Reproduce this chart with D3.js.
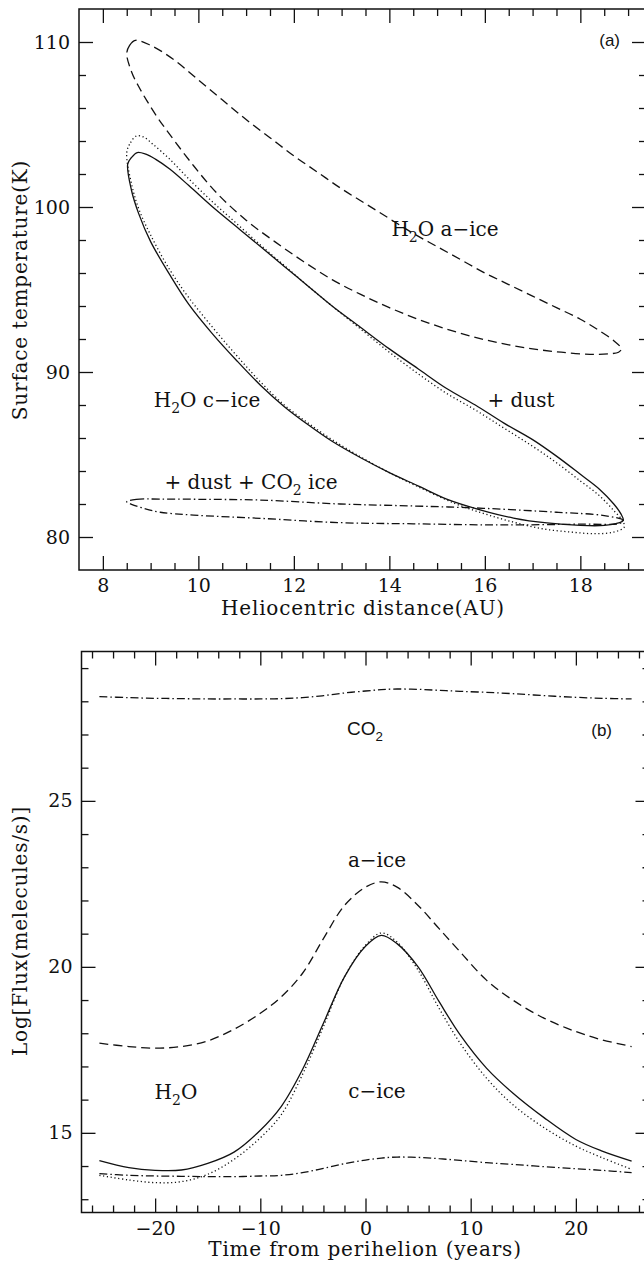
<!DOCTYPE html>
<html lang="en">
<head>
<meta charset="UTF-8">
<title>Surface temperature and flux</title>
<script src="https://cdnjs.cloudflare.com/ajax/libs/d3/7.8.5/d3.min.js"></script>
<style>
    body { margin: 0; background: #fff; }
    svg { display: block; }
    .tick text { font-family: "DejaVu Serif", serif; font-size: 19px; fill: #111; }
    .tick line { stroke: #111; stroke-width: 1.3; }
    .title { font-family: "DejaVu Serif", serif; font-size: 20px; letter-spacing: 0.8px; fill: #111; }
    .lab { font-family: "DejaVu Serif", serif; font-size: 20px; fill: #111; }
    .sans { font-family: "Liberation Sans", Arial, sans-serif; fill: #111; }
    .curve { fill: none; stroke: #111; stroke-width: 1.3; }
</style>
</head>
<body>
<svg id="chart" width="644" height="1264"></svg>
<script>
// ---- panel (a): surface temperature over one orbit (closed loops) ----
// H2O amorphous ice (dashed)
const aIceR = [8.5, 8.56, 8.68, 9.0, 9.5, 10.0, 10.5, 11.0, 11.5, 12.0, 12.5, 13.0, 13.5, 14.0, 14.5, 15.0, 15.5, 16.0, 16.5, 17.0, 17.5, 18.0, 18.4, 18.7, 18.86,
               18.8, 18.6, 18.2, 17.6, 17.0, 16.4, 15.8, 15.2, 14.6, 14.0, 13.4, 12.8, 12.2, 11.6, 11.0, 10.4, 9.9, 9.4, 9.15, 8.93, 8.75, 8.6];
const aIceT = [109.3, 109.8, 110.1, 109.8, 108.9, 107.7, 106.5, 105.3, 104.2, 103.1, 102.1, 101.1, 100.2, 99.3, 98.4, 97.6, 96.8, 96.0, 95.3, 94.6, 93.9, 93.2, 92.5, 91.9, 91.4,
               91.2, 91.1, 91.07, 91.2, 91.4, 91.7, 92.1, 92.6, 93.2, 93.9, 94.7, 95.6, 96.7, 97.9, 99.2, 100.8, 102.5, 104.4, 105.4, 106.4, 107.3, 108.2];
// H2O crystalline ice + dust (solid)
const cIceDustR = [8.52, 8.6, 8.72, 8.9, 9.1, 9.4, 9.8, 10.3, 10.8, 11.3, 11.8, 12.3, 12.8, 13.4, 14.0, 14.6, 15.2, 15.8, 16.4, 17.0, 17.5, 18.0, 18.4, 18.7, 18.85, 18.9,
                   18.8, 18.5, 18.0, 17.3, 16.6, 15.9, 15.2, 14.6, 14.0, 13.4, 12.8, 12.3, 11.8, 11.3, 10.8, 10.3, 9.8, 9.4, 9.0, 8.75, 8.6];
const cIceDustT = [102.6, 103.0, 103.3, 103.2, 102.9, 102.3, 101.3, 100.0, 98.8, 97.6, 96.4, 95.2, 94.0, 92.7, 91.4, 90.2, 89.0, 88.0, 86.9, 85.9, 84.9, 83.8, 82.9, 82.0, 81.4, 81.0,
                   80.85, 80.7, 80.7, 80.85, 81.15, 81.65, 82.3, 83.1, 83.9, 84.8, 85.8, 86.8, 87.9, 89.2, 90.7, 92.3, 94.1, 95.9, 97.9, 99.6, 101.0];
// H2O crystalline ice (dotted)
const cIceR = [8.5, 8.58, 8.7, 8.85, 9.05, 9.4, 9.8, 10.3, 10.8, 11.3, 11.8, 12.3, 12.8, 13.4, 14.0, 14.6, 15.2, 15.8, 16.4, 17.0, 17.5, 18.0, 18.4, 18.7, 18.88, 18.92,
               18.7, 18.3, 17.8, 17.2, 16.6, 16.0, 15.4, 14.6, 14.0, 13.4, 12.8, 12.3, 11.8, 11.3, 10.8, 10.3, 9.8, 9.4, 9.0, 8.75, 8.6];
const cIceT = [103.3, 103.9, 104.3, 104.25, 103.8, 102.9, 101.7, 100.3, 99.0, 97.7, 96.45, 95.2, 94.0, 92.6, 91.2, 89.9, 88.7, 87.7, 86.6, 85.5, 84.5, 83.4, 82.5, 81.6, 81.0, 80.6,
               80.3, 80.2, 80.3, 80.5, 80.9, 81.4, 82.0, 83.05, 83.9, 84.85, 85.9, 86.9, 88.0, 89.4, 91.0, 92.7, 94.5, 96.2, 98.3, 99.9, 101.4];
// + dust + CO2 ice (dash-dot)
const co2IceR = [8.5, 8.7, 9.2, 10.2, 11.3, 12.97, 14.5, 15.97, 17.5, 18.5, 18.9, 18.83, 18.0, 16.3, 14.5, 12.97, 11.3, 9.9, 9.2, 8.85, 8.6];
const co2IceT = [82.14, 82.28, 82.3, 82.28, 82.24, 82.0, 81.88, 81.74, 81.5, 81.3, 81.0, 80.83, 80.78, 80.73, 80.8, 80.87, 81.13, 81.33, 81.5, 81.74, 81.98];

// ---- panel (b): log flux vs time from perihelion ----
const timeYears      = [-25.3, -22.5, -20, -17.5, -15, -12.5, -10, -8, -6, -4, -2, 0, 1.5, 3, 5, 7, 9, 11.5, 14, 17, 20, 22.5, 25.3];
const fluxCO2        = [28.14, 28.11, 28.09, 28.08, 28.07, 28.07, 28.07, 28.08, 28.11, 28.17, 28.25, 28.31, 28.35, 28.37, 28.36, 28.33, 28.3, 28.27, 28.23, 28.17, 28.12, 28.09, 28.07];
const fluxAIce       = [17.7, 17.6, 17.55, 17.6, 17.77, 18.12, 18.6, 19.1, 19.8, 20.85, 21.85, 22.4, 22.56, 22.4, 21.85, 21.15, 20.45, 19.6, 19.0, 18.45, 18.05, 17.8, 17.6];
const fluxCIceDust   = [14.16, 13.95, 13.87, 13.88, 14.08, 14.42, 15.08, 15.8, 16.9, 18.3, 19.7, 20.62, 20.95, 20.7, 20.0, 18.95, 17.95, 16.95, 16.2, 15.45, 14.8, 14.45, 14.15];
const fluxCIce       = [13.72, 13.58, 13.5, 13.53, 13.75, 14.2, 14.85, 15.55, 16.75, 18.2, 19.7, 20.65, 21.02, 20.75, 19.9, 18.75, 17.7, 16.65, 15.85, 15.15, 14.6, 14.25, 13.9];
const fluxH2OWithCO2 = [13.77, 13.72, 13.7, 13.69, 13.68, 13.68, 13.7, 13.72, 13.8, 13.93, 14.07, 14.18, 14.24, 14.27, 14.26, 14.22, 14.17, 14.1, 14.05, 13.98, 13.92, 13.87, 13.8];

const svg = d3.select("#chart");

const styles = {
    solid: null,
    dotted: "1.2,2.6",
    dashed: "9,5",
    dashdot: "8,3,1.5,3"
};

// Scales
const xA = d3.scaleLinear().domain([7.5, 19.375]).range([79, 646]);
const yA = d3.scaleLinear().domain([78, 112]).range([570, 9]);
const xB = d3.scaleLinear().domain([-27, 27]).range([81.5, 649.5]);
const yB = d3.scaleLinear().domain([12.6, 29.5]).range([1212.5, 651.5]);

function frame(x, y, xMajor, xMinor, yMajor, yMinor) {
    const [x0, x1] = x.range();
    const [y0, y1] = y.range();
    const fmt = d3.format("d");

    const defs = [
        [d3.axisBottom, `translate(0,${y0})`, x, xMajor, 14, fmt],
        [d3.axisBottom, `translate(0,${y0})`, x, xMinor, 7, ""],
        [d3.axisTop, `translate(0,${y1})`, x, xMajor, 14, ""],
        [d3.axisTop, `translate(0,${y1})`, x, xMinor, 7, ""],
        [d3.axisLeft, `translate(${x0},0)`, y, yMajor, 14, fmt],
        [d3.axisLeft, `translate(${x0},0)`, y, yMinor, 7, ""],
        [d3.axisRight, `translate(${x1},0)`, y, yMajor, 14, ""],
        [d3.axisRight, `translate(${x1},0)`, y, yMinor, 7, ""]
    ];
    defs.forEach(([axis, tr, sc, vals, len, f]) => {
        const g = svg.append("g")
            .attr("transform", tr)
            .call(axis(sc).tickValues(vals).tickSize(-len).tickPadding(9).tickFormat(f === "" ? () => "" : f));
        g.select(".domain").remove();
        g.attr("font-family", null).attr("font-size", null);
    });

    svg.append("rect")
        .attr("x", x0).attr("y", y1)
        .attr("width", x1 - x0).attr("height", y0 - y1)
        .attr("fill", "none")
        .attr("stroke", "#111")
        .attr("stroke-width", 1.5);
}

function loop(rs, ts, style) {
    const pts = rs.map((r, i) => [xA(r), yA(ts[i])]);
    svg.append("path")
        .attr("class", "curve")
        .attr("d", d3.line().curve(d3.curveCatmullRomClosed.alpha(0.5))(pts))
        .attr("stroke-dasharray", styles[style]);
}

function series(vals, style) {
    const pts = timeYears.map((t, i) => [xB(t), yB(vals[i])]);
    svg.append("path")
        .attr("class", "curve")
        .attr("d", d3.line().curve(d3.curveCatmullRom.alpha(0.5))(pts))
        .attr("stroke-dasharray", styles[style]);
}

// text with a subscript "2" inside
function subText(x, y, parts, cls, size, anchor) {
    const t = svg.append("text")
        .attr("class", cls)
        .attr("x", x).attr("y", y)
        .attr("text-anchor", anchor || "middle")
        .style("font-size", size + "px");
    parts.forEach(p => {
        if (p.sub) {
            t.append("tspan").attr("dy", size * 0.3).style("font-size", (size * 0.7) + "px").text(p.sub);
        } else {
            t.append("tspan").attr("dy", p.after ? -size * 0.3 : 0).text(p.text);
        }
    });
    return t;
}

// Panel (a)
frame(xA, yA,
    d3.range(8, 19, 2),
    d3.range(8.5, 19.01, 0.5).filter(d => d % 2 !== 0),
    [80, 90, 100, 110],
    d3.range(80, 112, 2).filter(d => d % 10 !== 0));

loop(aIceR, aIceT, "dashed");
loop(cIceR, cIceT, "dotted");
loop(cIceDustR, cIceDustT, "solid");
loop(co2IceR, co2IceT, "dashdot");

svg.append("text").attr("class", "title")
    .attr("x", 363).attr("y", 615).attr("text-anchor", "middle")
    .text("Heliocentric distance(AU)");
svg.append("text").attr("class", "title")
    .attr("transform", "translate(27,290) rotate(-90)").attr("text-anchor", "middle")
    .text("Surface temperature(K)");

subText(445, 236, [{text: "H"}, {sub: "2"}, {text: "O a−ice", after: true}], "lab", 20);
subText(207, 407, [{text: "H"}, {sub: "2"}, {text: "O c−ice", after: true}], "lab", 20);
svg.append("text").attr("class", "lab").attr("x", 521).attr("y", 407).attr("text-anchor", "middle").text("+ dust");
subText(251, 489, [{text: "+ dust + CO"}, {sub: "2"}, {text: " ice", after: true}], "lab", 20);
svg.append("text").attr("class", "sans").attr("x", 620).attr("y", 46).attr("text-anchor", "end")
    .style("font-size", "17px").text("(a)");

// Panel (b)
frame(xB, yB,
    [-20, -10, 0, 10, 20],
    d3.range(-26, 27, 2).filter(d => d % 10 !== 0),
    [15, 20, 25],
    d3.range(13, 30, 1).filter(d => d % 5 !== 0));

series(fluxCO2, "dashdot");
series(fluxAIce, "dashed");
series(fluxCIce, "dotted");
series(fluxCIceDust, "solid");
series(fluxH2OWithCO2, "dashdot");

svg.append("text").attr("class", "title")
    .attr("x", 365).attr("y", 1256).attr("text-anchor", "middle")
    .text("Time from perihelion (years)");
svg.append("text").attr("class", "title")
    .attr("transform", "translate(27,931) rotate(-90)").attr("text-anchor", "middle")
    .text("Log[Flux(melecules/s)]");

subText(365, 735, [{text: "CO"}, {sub: "2"}], "sans", 19);
svg.append("text").attr("class", "sans").attr("x", 612).attr("y", 736).attr("text-anchor", "end")
    .style("font-size", "17px").text("(b)");
svg.append("text").attr("class", "lab").attr("x", 377).attr("y", 867).attr("text-anchor", "middle").text("a−ice");
svg.append("text").attr("class", "lab").attr("x", 377).attr("y", 1098).attr("text-anchor", "middle").text("c−ice");
subText(176, 1099, [{text: "H"}, {sub: "2"}, {text: "O", after: true}], "lab", 20);
</script>
</body>
</html>
